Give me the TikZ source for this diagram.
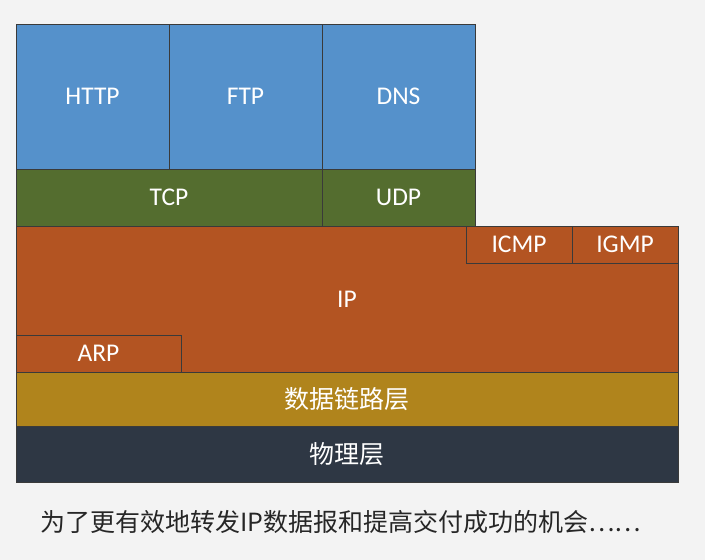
\documentclass[tikz,border=0pt]{standalone}
\usepackage{fontspec}
\setmainfont{Carlito}
\newfontfamily\cjk{Noto Sans CJK SC}
\definecolor{bgc}{HTML}{F3F3F3}
\definecolor{appc}{HTML}{5591CB}
\definecolor{tpc}{HTML}{546D2F}
\definecolor{ipc}{HTML}{B35422}
\definecolor{dlc}{HTML}{B0841C}
\definecolor{phc}{HTML}{2E3744}
\definecolor{edge}{HTML}{3A3A3A}
\tikzset{
  cell/.style={draw=edge, line width=0.8pt, inner sep=0pt, outer sep=0pt,
    anchor=north west, text=white, font=\fontsize{25.5}{28}\selectfont},
  cjkcell/.style={cell, font=\cjk\fontsize{25}{28}\selectfont},
}
\begin{document}
\begin{tikzpicture}[x=1pt,y=-1pt]
\fill[bgc] (0,0) rectangle (705,560);
\useasboundingbox (0,0) rectangle (705,560);
% application layer
\node[cell, fill=appc, minimum width=153pt, minimum height=145pt] (http) at (16,24) {HTTP};
\node[cell, fill=appc, minimum width=153pt, minimum height=145pt] (ftp) at (169,24) {FTP};
\node[cell, fill=appc, minimum width=153pt, minimum height=145pt] (dns) at (322,24) {DNS};
% transport layer
\node[cell, fill=tpc, minimum width=306pt, minimum height=57pt] (tcp) at (16,169) {TCP};
\node[cell, fill=tpc, minimum width=153pt, minimum height=57pt] (udp) at (322,169) {UDP};
% network layer
\node[cell, fill=ipc, minimum width=662pt, minimum height=146pt] (ip) at (16,226) {IP};
\node[cell, fill=ipc, minimum width=106pt, minimum height=37pt] (icmp) at (466,226) {ICMP};
\node[cell, fill=ipc, minimum width=106pt, minimum height=37pt] (igmp) at (572,226) {IGMP};
\node[cell, fill=ipc, minimum width=165pt, minimum height=37pt] (arp) at (16,335) {ARP};
% data link & physical
\node[cjkcell, fill=dlc, minimum width=662pt, minimum height=54pt] (dl) at (16,372) {数据链路层};
\node[cjkcell, fill=phc, minimum width=662pt, minimum height=56pt] (ph) at (16,426) {物理层};
% caption
\node[anchor=west, inner sep=0pt, text=black!85, font=\cjk\fontsize{25}{28}\selectfont] (cap) at (40,522) {为了更有效地转发IP数据报和提高交付成功的机会……};
\end{tikzpicture}
\end{document}
